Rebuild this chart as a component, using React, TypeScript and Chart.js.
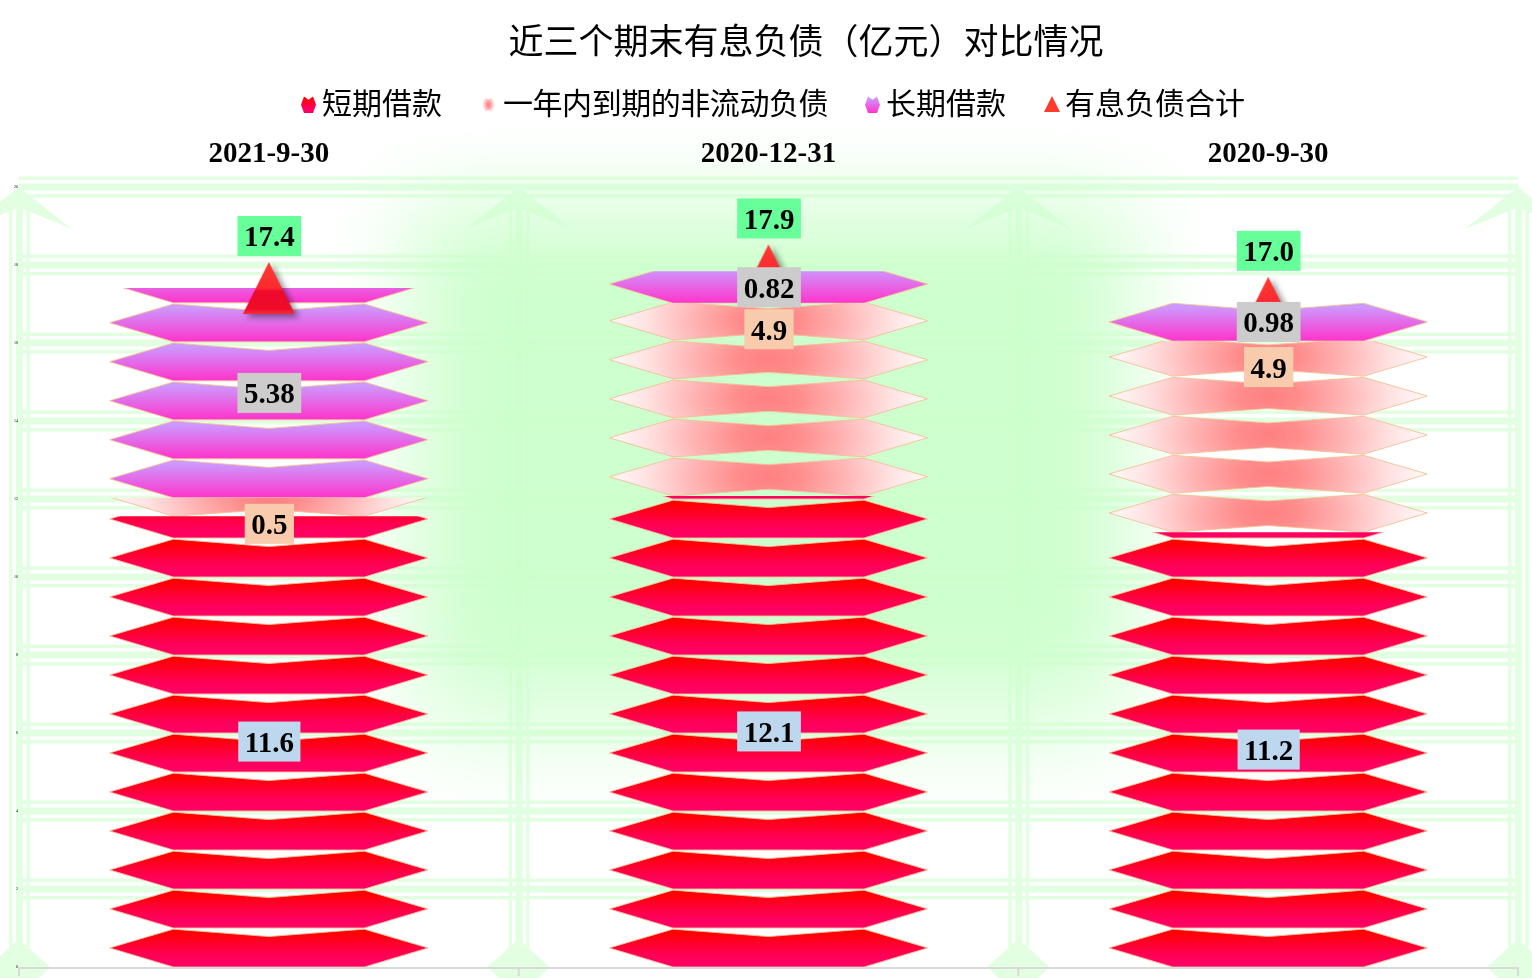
import React, { useEffect, useRef } from 'react';
import { Chart, registerables } from 'chart.js';

Chart.register(...registerables);

const periods = ['2021-9-30', '2020-12-31', '2020-9-30'];
const shortLoans = [11.56, 12.08, 11.15];
const currentPortion = [0.47, 4.94, 4.9];
const longLoans = [5.38, 0.82, 0.98];
const totalDebt = [17.41, 17.86, 17.03];
const yMax = 20;
const yStep = 2;

const TITLE = '近三个期末有息负债（亿元）对比情况';
const SERIF = '"Liberation Serif", "Noto Sans CJK SC"';
const CJK = '"Noto Sans CJK SC", sans-serif';

type TileKind = 'red' | 'pink' | 'purple';
const tileKinds: TileKind[] = ['red', 'pink', 'purple'];
const labelBoxColors = ['#bdd7ee', '#f8cbad', '#cccccc'];
const labelDecimals = [1, 1, 2];
const legendKeyX = [301, 482, 865, 1044];

// one picture-fill tile: a hexagon with a dented top edge
function drawTile(ctx: CanvasRenderingContext2D, kind: TileKind, x: number, y: number, w: number, h: number, outline = true) {
  const top = y + h * 0.03;
  const bottom = y + h;
  const mid = y + h * 0.51;
  ctx.save();
  ctx.beginPath();
  ctx.moveTo(x, mid);
  ctx.lineTo(x + w * 0.2, top);
  ctx.lineTo(x + w * 0.5, y + h * (kind === 'pink' ? 0.2 : 0.22));
  ctx.lineTo(x + w * 0.8, top);
  ctx.lineTo(x + w, mid);
  ctx.lineTo(x + w * 0.8, bottom);
  if (kind === 'pink') ctx.lineTo(x + w * 0.5, y + h * 0.83);
  ctx.lineTo(x + w * 0.2, bottom);
  ctx.closePath();

  if (kind === 'pink') {
    ctx.save();
    ctx.translate(x + w / 2, mid);
    ctx.scale(1, h > w ? 1.4 : 0.5);
    const g = ctx.createRadialGradient(0, 0, 0, 0, 0, w * 0.48);
    g.addColorStop(0, '#ff8080');
    g.addColorStop(0.2, '#ff8c8c');
    g.addColorStop(0.5, '#ffb4b4');
    g.addColorStop(0.8, '#ffe2e2');
    g.addColorStop(1, '#fff6f6');
    ctx.fillStyle = g;
    ctx.fill();
    ctx.restore();
  } else {
    const g = ctx.createLinearGradient(0, y, 0, y + h);
    if (kind === 'red') {
      g.addColorStop(0.1, '#ff0000');
      g.addColorStop(0.7, '#ff0058');
      g.addColorStop(1, '#ff0066');
    } else {
      g.addColorStop(0.12, '#cc99ff');
      g.addColorStop(1, '#ff33cc');
    }
    ctx.fillStyle = g;
    ctx.fill();
  }
  if (outline) {
    ctx.lineWidth = 0.9;
    ctx.strokeStyle = '#f5bf94';
    ctx.stroke();
  }
  ctx.restore();
}

function makeTriangle() {
  const c = document.createElement('canvas');
  c.width = 80;
  c.height = 80;
  const ctx = c.getContext('2d') as CanvasRenderingContext2D;
  const g = ctx.createLinearGradient(0, 14, 0, 66);
  g.addColorStop(0, '#ff3b30');
  g.addColorStop(0.5, '#fb2a30');
  g.addColorStop(0.56, '#ee0a2a');
  g.addColorStop(0.9, '#f00a2a');
  g.addColorStop(1, '#f5303c');
  ctx.shadowColor = 'rgba(0,0,0,0.45)';
  ctx.shadowBlur = 6;
  ctx.shadowOffsetX = 4;
  ctx.shadowOffsetY = 3;
  ctx.fillStyle = g;
  ctx.beginPath();
  ctx.moveTo(40, 14);
  ctx.lineTo(66, 66);
  ctx.lineTo(14, 66);
  ctx.closePath();
  ctx.fill();
  return c;
}

// eased fade stops so the glow has no visible edge where the plateau starts
function fade(g: CanvasGradient, from: number, to: number, rgb: string, peak: number) {
  for (let i = 0; i <= 8; i++) {
    const t = i / 8;
    const a = t * t * (3 - 2 * t) * peak;
    g.addColorStop(from + (to - from) * t, `rgba(${rgb},${a})`);
  }
}

// green glow: horizontal fade multiplied by a vertical one
function makeGlow(width: number, height: number) {
  const c = document.createElement('canvas');
  c.width = width;
  c.height = height;
  const ctx = c.getContext('2d') as CanvasRenderingContext2D;
  const h = ctx.createLinearGradient(320, 0, 1220, 0);
  fade(h, 0, 0.2, '204,255,204', 0.96);
  fade(h, 1, 0.8, '204,255,204', 0.96);
  ctx.fillStyle = h;
  ctx.fillRect(0, 0, width, height);
  ctx.globalCompositeOperation = 'destination-in';
  const v = ctx.createLinearGradient(0, 115, 0, 835);
  fade(v, 0, 0.25, '0,0,0', 1);
  fade(v, 1, 0.68, '0,0,0', 1);
  ctx.fillStyle = v;
  ctx.fillRect(0, 0, width, height);
  return c;
}

// triple compound gridlines with arrow caps, then the soft green glow over them
const backdropPlugin = {
  id: 'backdrop',
  beforeDraw(chart: any) {
    const { ctx, chartArea, scales } = chart;
    const { left, right, top, bottom } = chartArea;
    const band = '#e2ffe2';
    ctx.save();
    ctx.fillStyle = '#ffffff';
    ctx.fillRect(0, 0, chart.width, chart.height);

    ctx.fillStyle = band;
    scales.y.ticks.forEach((_: any, i: number) => {
      const y = scales.y.getPixelForTick(i);
      if (y >= bottom - 1) return;
      ctx.fillRect(left, y - 10.5, right - left, 3.5);
      ctx.fillRect(left, y - 3.5, right - left, 7);
      ctx.fillRect(left, y + 7, right - left, 3.5);
    });

    const step = (right - left) / periods.length;
    for (let i = 0; i <= periods.length; i++) {
      const x = left + step * i;
      const from = top + 18;
      const to = bottom - 20;
      ctx.fillRect(x - 10, from, 3.5, to - from);
      ctx.fillRect(x - 3, from, 7, to - from);
      ctx.fillRect(x + 7.5, from, 3.5, to - from);
      ctx.beginPath();
      ctx.moveTo(x, top);
      ctx.lineTo(x + 53, top + 42);
      ctx.lineTo(x, top + 20.5);
      ctx.lineTo(x - 53, top + 42);
      ctx.closePath();
      ctx.fill();
      ctx.beginPath();
      ctx.moveTo(x, bottom - 28);
      ctx.lineTo(x + 31, bottom);
      ctx.lineTo(x, bottom + 31);
      ctx.lineTo(x - 31, bottom);
      ctx.closePath();
      ctx.fill();
    }

    ctx.drawImage(makeGlow(chart.width, chart.height), 0, 0);
    ctx.restore();

    ctx.save();
    ctx.fillStyle = '#d9d9d9';
    ctx.fillRect(left - 1, bottom, right - left + 1, 2);
    for (let i = 0; i <= periods.length; i++) {
      ctx.fillRect(left - 1 + step * i, bottom, 2, 9);
    }
    ctx.restore();
  },
  beforeDatasetDraw(chart: any, args: any) {
    const kind = tileKinds[args.index];
    if (!kind) return;
    const { ctx, scales } = chart;
    const tileH = scales.y.getPixelForValue(0) - scales.y.getPixelForValue(1);
    args.meta.data.forEach((bar: any) => {
      const { x, y, base, width } = bar.getProps(['x', 'y', 'base', 'width'], true);
      ctx.save();
      ctx.beginPath();
      ctx.rect(x - width / 2, y, width, base - y);
      ctx.clip();
      // tiles stack up from the bottom of the segment, the last one is cut off
      for (let t = base - tileH; t + tileH > y; t -= tileH) {
        drawTile(ctx, kind, x - width / 2, t, width, tileH);
      }
      ctx.restore();
    });
  },
  afterDatasetsDraw(chart: any) {
    const { ctx } = chart;
    const label = (text: string, cx: number, cy: number, color: string) => {
      ctx.font = `bold 29px ${SERIF}`;
      const w = ctx.measureText(text).width + 13;
      ctx.fillStyle = color;
      ctx.fillRect(cx - w / 2, cy - 20, w, 40);
      ctx.fillStyle = '#000';
      ctx.textAlign = 'center';
      ctx.textBaseline = 'middle';
      ctx.fillText(text, cx, cy + 3);
    };
    ctx.save();
    [0, 1, 2].forEach((d) => {
      chart.getDatasetMeta(d).data.forEach((bar: any, i: number) => {
        const { x, y, base } = bar.getProps(['x', 'y', 'base'], true);
        const cy = d === 1 ? y + 26 : (y + base) / 2;
        const value = chart.data.datasets[d].data[i] as number;
        label(value.toFixed(labelDecimals[d]), x + 0.5, cy, labelBoxColors[d]);
      });
    });
    chart.getDatasetMeta(3).data.forEach((pt: any, i: number) => {
      label(totalDebt[i].toFixed(1), pt.x + 0.5, pt.y - 52, '#66ff99');
    });

    ctx.fillStyle = '#000';
    ctx.textBaseline = 'middle';
    ctx.textAlign = 'center';
    ctx.font = `35px ${CJK}`;
    ctx.fillText(TITLE, 806, 41);

    ctx.textAlign = 'left';
    ctx.font = `30px ${CJK}`;
    chart.data.datasets.forEach((ds: any, i: number) => {
      const kx = legendKeyX[i];
      if (tileKinds[i]) {
        drawTile(ctx, tileKinds[i], kx, 96, tileKinds[i] === 'pink' ? 13 : 15, 17, false);
      } else {
        ctx.fillStyle = '#ff3b30';
        ctx.beginPath();
        ctx.moveTo(kx + 8, 96);
        ctx.lineTo(kx + 16, 112);
        ctx.lineTo(kx, 112);
        ctx.closePath();
        ctx.fill();
      }
      ctx.fillStyle = '#000';
      ctx.letterSpacing = ds.label.length > 6 ? '-0.45px' : '0px';
      ctx.fillText(ds.label, kx + 21, 103);
    });
    ctx.restore();
  },
};

const App: React.FC = () => {
  const canvasRef = useRef<HTMLCanvasElement>(null);

  useEffect(() => {
    if (!canvasRef.current) return;
    const chart = new Chart(canvasRef.current, {
      type: 'bar',
      data: {
        labels: periods,
        datasets: [
          { label: '短期借款', data: shortLoans, backgroundColor: 'transparent', order: 1 },
          { label: '一年内到期的非流动负债', data: currentPortion, backgroundColor: 'transparent', order: 1 },
          { label: '长期借款', data: longLoans, backgroundColor: 'transparent', order: 1 },
          {
            type: 'line',
            label: '有息负债合计',
            data: totalDebt,
            stack: 'total',
            showLine: false,
            pointStyle: makeTriangle(),
            order: 0,
            clip: false,
          } as any,
        ],
      },
      options: {
        responsive: false,
        animation: false,
        layout: { padding: { left: 0, right: 14, top: 0, bottom: 11 } },
        datasets: { bar: { categoryPercentage: 0.637, barPercentage: 1 } },
        plugins: { legend: { display: false }, title: { display: false }, tooltip: { enabled: false } },
        scales: {
          x: {
            position: 'top',
            stacked: true,
            border: { display: false },
            grid: { display: false, drawTicks: false },
            ticks: {
              color: '#000',
              font: { family: SERIF, size: 29, weight: 'bold' },
              padding: 15,
              maxRotation: 0,
              autoSkip: false,
            },
            afterFit: (s: any) => {
              s.height = 187;
            },
          },
          y: {
            stacked: true,
            min: 0,
            max: yMax,
            border: { display: false },
            grid: { display: false, drawTicks: false },
            ticks: { stepSize: yStep, color: '#000', font: { family: SERIF, size: 4 }, padding: 1 },
            afterFit: (s: any) => {
              s.width = 19;
            },
          },
        },
      },
      plugins: [backdropPlugin],
    } as any);
    return () => chart.destroy();
  }, []);

  return (
    <div style={{ position: 'absolute', left: 0, top: 0, width: 1532, height: 978 }}>
      <canvas ref={canvasRef} width={1532} height={978} style={{ display: 'block' }} />
    </div>
  );
};

export default App;
